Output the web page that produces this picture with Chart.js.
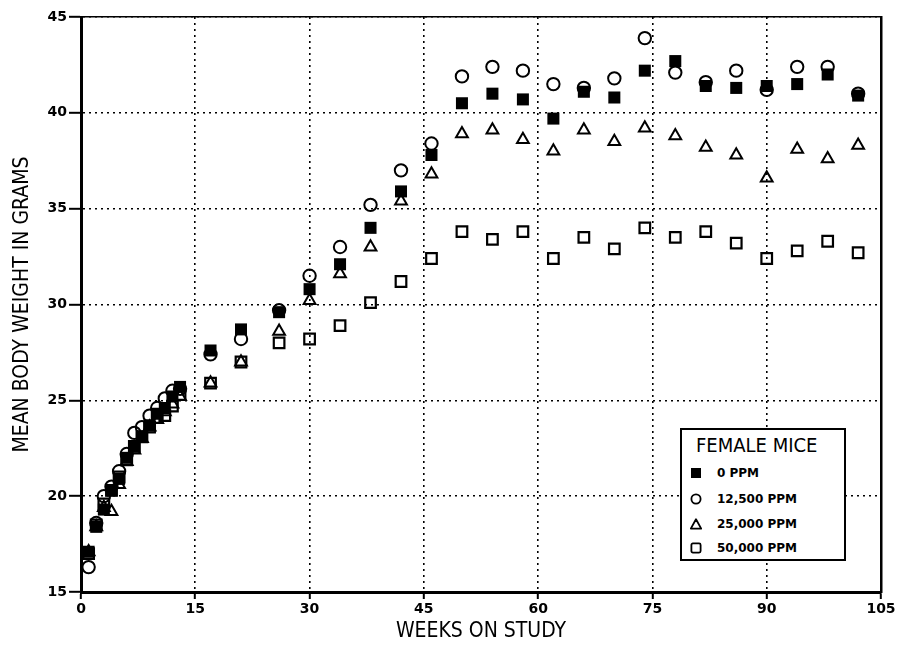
<!DOCTYPE html>
<html>
<head>
<meta charset="utf-8">
<script src="https://cdn.jsdelivr.net/npm/chart.js@4/dist/chart.umd.min.js"></script>
<style>
  body { margin: 0; background: #fff; }
  #wrap { position: relative; width: 902px; height: 660px; }
  #legend { position: absolute; left: 680px; top: 428px; width: 166px; height: 133px; box-sizing: border-box;
            border: 2px solid #000; background: #fff; font-family: 'DejaVu Sans', sans-serif; color: #000; }
  #legend .title { position: absolute; left: 14px; top: 3px; font-family: 'DejaVu Sans Condensed', 'Liberation Sans Narrow', 'DejaVu Sans';
                   font-size: 20px; line-height: 24px; white-space: nowrap; }
  #legend .row { position: absolute; left: 8px; height: 14px; font-weight: bold; font-size: 12px; line-height: 14px; }
  #legend .row svg { position: absolute; left: 0; top: 1px; }
  #legend .row span { position: absolute; left: 27px; top: 0; white-space: nowrap; }
</style>
</head>
<body>
<div id="wrap">
  <canvas id="graphCanvas" width="902" height="660"></canvas>
  <div id="legend"></div>
</div>
<script>
// weeks on study
var weeks = [1, 2, 3, 4, 5, 6, 7, 8, 9, 10, 11, 12, 13,
  17, 21, 26, 30, 34, 38, 42, 46, 50, 54, 58, 62, 66, 70, 74, 78, 82, 86, 90, 94, 98, 102];

// mean body weight (g)
var ppm0 = [17.1, 18.4, 19.3, 20.3, 20.9, 22.0, 22.6, 23.1, 23.7, 24.3, 24.6, 25.2, 25.7,
  27.6, 28.7, 29.6, 30.8, 32.1, 34.0, 35.9, 37.8, 40.5, 41.0, 40.7, 39.7, 41.1, 40.8, 42.2, 42.7, 41.4, 41.3, 41.4, 41.5, 42.0, 40.9];
var ppm12500 = [16.3, 18.6, 20.0, 20.5, 21.3, 22.2, 23.3, 23.6, 24.2, 24.6, 25.1, 25.5, 25.6,
  27.4, 28.2, 29.7, 31.5, 33.0, 35.2, 37.0, 38.4, 41.9, 42.4, 42.2, 41.5, 41.3, 41.8, 43.9, 42.1, 41.6, 42.2, 41.2, 42.4, 42.4, 41.0];
var ppm25000 = [17.1, 18.4, 19.4, 19.2, 20.6, 21.8, 22.4, 23.0, 23.6, 24.0, 24.4, 24.8, 25.2,
  25.9, 27.0, 28.6, 30.2, 31.6, 33.0, 35.4, 36.8, 38.9, 39.1, 38.6, 38.0, 39.1, 38.5, 39.2, 38.8, 38.2, 37.8, 36.6, 38.1, 37.6, 38.3];
var ppm50000 = [17.0, 18.5, 19.6, 20.3, 21.0, 21.9, 22.6, 23.1, 23.6, 24.1, 24.2, 24.7, 25.3,
  25.9, 27.0, 28.0, 28.2, 28.9, 30.1, 31.2, 32.4, 33.8, 33.4, 33.8, 32.4, 33.5, 32.9, 34.0, 33.5, 33.8, 33.2, 32.4, 32.8, 33.3, 32.7];

var seriesLabels = ['0 PPM', '12,500 PPM', '25,000 PPM', '50,000 PPM'];
var legendTitle = 'FEMALE MICE';
var xTicks = [0, 15, 30, 45, 60, 75, 90, 105];
var yTicks = [15, 20, 25, 30, 35, 40, 45];

function toPoints(vals) {
  var pts = [];
  for (var i = 0; i < weeks.length; i++) {
    pts.push({x: weeks[i], y: vals[i]});
  }
  return pts;
}

var titleFont = "'DejaVu Sans Condensed', 'Liberation Sans Narrow', 'DejaVu Sans'";
var tickFont = {family: "'DejaVu Sans'", size: 14, weight: 'bold'};

Chart.defaults.color = '#000';

var canvas = document.getElementById('graphCanvas').getContext('2d');

var chart = new Chart(canvas, {
  type: 'scatter',
  data: {
    datasets: [{
      label: seriesLabels[0],
      data: toPoints(ppm0),
      pointStyle: 'rect',
      pointRadius: 8.5,
      backgroundColor: '#000',
      borderColor: '#000',
      borderWidth: 0
    }, {
      label: seriesLabels[1],
      data: toPoints(ppm12500),
      pointStyle: 'circle',
      pointRadius: 6.2,
      backgroundColor: 'rgba(0,0,0,0)',
      borderColor: '#000',
      borderWidth: 2
    }, {
      label: seriesLabels[2],
      data: toPoints(ppm25000),
      pointStyle: 'triangle',
      pointRadius: 6.8,
      backgroundColor: 'rgba(0,0,0,0)',
      borderColor: '#000',
      borderWidth: 2
    }, {
      label: seriesLabels[3],
      data: toPoints(ppm50000),
      pointStyle: 'rect',
      pointRadius: 7.5,
      backgroundColor: 'rgba(0,0,0,0)',
      borderColor: '#000',
      borderWidth: 2.2
    }]
  },
  options: {
    responsive: false,
    animation: false,
    events: [],
    layout: {padding: {left: 0, right: 21, top: 17, bottom: 0}},
    plugins: {legend: {display: false}, tooltip: {enabled: false}},
    scales: {
      x: {
        type: 'linear', position: 'bottom', min: 0, max: 105,
        afterBuildTicks: function(s) { s.ticks = xTicks.map(function(v) { return {value: v}; }); },
        afterFit: function(s) { s.height = 68; },
        ticks: {font: tickFont, color: '#000', padding: 2, maxRotation: 0},
        grid: {color: '#000', lineWidth: 1.6, tickLength: 7, tickWidth: 2, tickColor: '#000', tickBorderDash: []},
        border: {display: true, color: '#000', width: 3, dash: [2, 4]},
        title: {display: true, text: 'WEEKS ON STUDY', color: '#000',
                font: {family: titleFont, size: 21}, padding: {top: 0, bottom: 16}}
      },
      y: {
        type: 'linear', position: 'left', min: 15, max: 45,
        afterBuildTicks: function(s) { s.ticks = yTicks.map(function(v) { return {value: v}; }); },
        afterFit: function(s) { s.width = 81; },
        ticks: {font: tickFont, color: '#000', padding: 2},
        grid: {color: '#000', lineWidth: 1.6, tickLength: 12, tickWidth: 2, tickColor: '#000', tickBorderDash: []},
        border: {display: true, color: '#000', width: 3, dash: [2, 4]},
        title: {display: true, text: 'MEAN BODY WEIGHT IN GRAMS', color: '#000',
                font: {family: titleFont, size: 21}, padding: {top: 10, bottom: 0}}
      },
      xTop: {
        type: 'linear', position: 'top', min: 0, max: 105,
        afterFit: function(s) { s.height = 0; },
        ticks: {display: false},
        grid: {display: false},
        border: {display: true, color: '#000', width: 1.5}
      },
      yRight: {
        type: 'linear', position: 'right', min: 15, max: 45,
        afterFit: function(s) { s.width = 0; },
        ticks: {display: false},
        grid: {display: false},
        border: {display: true, color: '#000', width: 2.5}
      }
    }
  }
});

// legend box drawn as html over the canvas
var markers = [
  '<rect x="1" y="1" width="10" height="10" fill="#000"/>',
  '<circle cx="6" cy="6" r="4.6" fill="none" stroke="#000" stroke-width="1.8"/>',
  '<polygon points="6,1.2 11.2,10.6 0.8,10.6" fill="none" stroke="#000" stroke-width="1.8" stroke-linejoin="round"/>',
  '<rect x="1.4" y="1.4" width="9.2" height="9.2" rx="1.5" fill="none" stroke="#000" stroke-width="1.8"/>'
];
var rowTops = [36, 62, 87, 111];
var html = '<div class="title">' + legendTitle + '</div>';
for (var i = 0; i < seriesLabels.length; i++) {
  html += '<div class="row" style="top:' + rowTops[i] + 'px"><svg width="12" height="12" viewBox="0 0 12 12">' +
    markers[i] + '</svg><span>' + seriesLabels[i] + '</span></div>';
}
document.getElementById('legend').innerHTML = html;
</script>
</body>
</html>
